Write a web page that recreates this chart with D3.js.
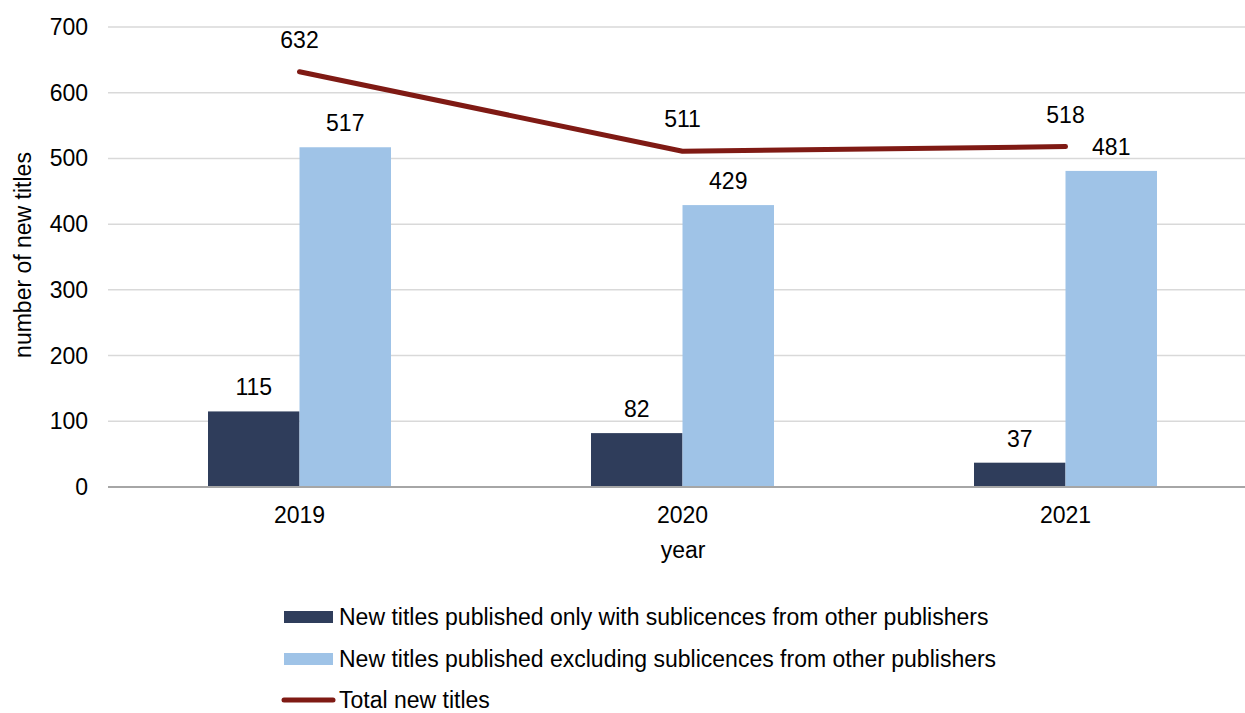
<!DOCTYPE html>
<html><head><meta charset="utf-8">
<script src="https://cdn.jsdelivr.net/npm/d3@7"></script>
<style>body{margin:0;background:#fff;overflow:hidden}svg{display:block}text{font-family:"Liberation Sans",Arial,sans-serif;fill:#000}</style>
</head><body><svg id="c" width="1245" height="713"></svg>
<script>
const years = ["2019","2020","2021"];
const onlySub = [115, 82, 37];
const exclSub = [517, 429, 481];
const total = [632, 511, 518];
const yTicks = [0,100,200,300,400,500,600,700];
const seriesNames = ["New titles published only with sublicences from other publishers","New titles published excluding sublicences from other publishers","Total new titles"];
const colors = ["#2f3d5b","#9fc3e7","#7f1a14"];

const FS = 23;
const svg = d3.select("#c");
const x = d3.scaleBand().domain(years).range([108,1257]).paddingInner(0).paddingOuter(0);
const y = d3.scaleLinear().domain([0,700]).range([487,27]);
const bw = 91.5;

// gridlines
svg.append("g").selectAll("line").data(yTicks.filter(d=>d>0)).join("line")
  .attr("x1",108).attr("x2",1257).attr("y1",d=>y(d)).attr("y2",d=>y(d))
  .attr("stroke","#d9d9d9").attr("stroke-width",1.5);

// y tick labels
svg.append("g").selectAll("text").data(yTicks).join("text")
  .attr("x",88).attr("y",d=>y(d)).attr("dy","0.35em").attr("text-anchor","end")
  .attr("font-size",FS).text(d=>d);

// bars
const g = svg.append("g");
years.forEach((yr,i)=>{
  const c = x(yr)+x.bandwidth()/2;
  g.append("rect").attr("x",c-bw).attr("width",bw).attr("y",y(onlySub[i])).attr("height",y(0)-y(onlySub[i])).attr("fill",colors[0]);
  g.append("rect").attr("x",c).attr("width",bw).attr("y",y(exclSub[i])).attr("height",y(0)-y(exclSub[i])).attr("fill",colors[1]);
  g.append("text").attr("x",c-bw/2).attr("y",y(onlySub[i])-16).attr("text-anchor","middle").attr("font-size",FS).text(onlySub[i]);
  g.append("text").attr("x",c+bw/2).attr("y",y(exclSub[i])-16).attr("text-anchor","middle").attr("font-size",FS).text(exclSub[i]);
});

// axis line
svg.append("line").attr("x1",108).attr("x2",1257).attr("y1",y(0)).attr("y2",y(0)).attr("stroke","#a6a6a6").attr("stroke-width",2);

// x tick labels
svg.append("g").selectAll("text").data(years).join("text")
  .attr("x",d=>x(d)+x.bandwidth()/2).attr("y",523).attr("text-anchor","middle").attr("font-size",FS).text(d=>d);

// line
const line = d3.line().x((d,i)=>x(years[i])+x.bandwidth()/2).y(d=>y(d));
svg.append("path").datum(total).attr("d",line).attr("fill","none").attr("stroke",colors[2]).attr("stroke-width",5).attr("stroke-linecap","round").attr("stroke-linejoin","round");
svg.append("g").selectAll("text").data(total).join("text")
  .attr("x",(d,i)=>x(years[i])+x.bandwidth()/2).attr("y",d=>y(d)-24).attr("text-anchor","middle").attr("font-size",FS).text(d=>d);

// axis titles
svg.append("text").attr("x",683).attr("y",558).attr("text-anchor","middle").attr("font-size",FS).text("year");
svg.append("text").attr("transform","translate(31,255) rotate(-90)").attr("text-anchor","middle").attr("font-size",FS).text("number of new titles");

// legend
const lg = svg.append("g");
const ly = [617, 659, 700];
lg.append("rect").attr("x",284).attr("y",ly[0]-6).attr("width",49).attr("height",12).attr("fill",colors[0]);
lg.append("rect").attr("x",284).attr("y",ly[1]-6).attr("width",49).attr("height",12).attr("fill",colors[1]);
lg.append("line").attr("x1",284).attr("x2",333).attr("y1",ly[2]).attr("y2",ly[2]).attr("stroke",colors[2]).attr("stroke-width",5).attr("stroke-linecap","round");
seriesNames.forEach((n,i)=>{
  lg.append("text").attr("x",339).attr("y",ly[i]).attr("dy","0.35em").attr("font-size",FS).text(n);
});
</script></body></html>
